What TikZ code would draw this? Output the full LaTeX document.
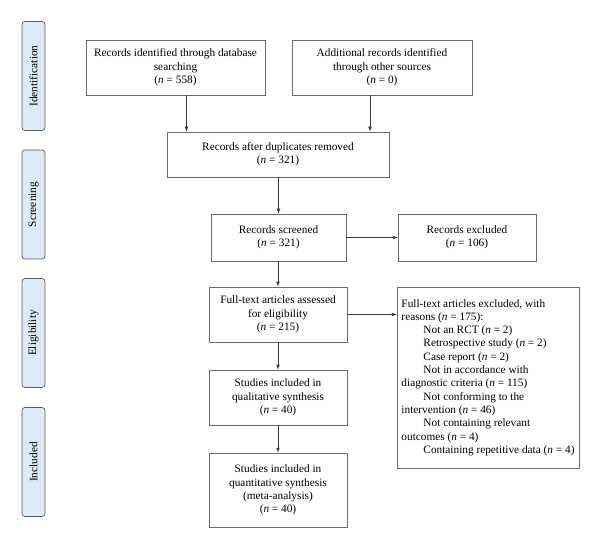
\documentclass[tikz,border=0pt]{standalone}
\usepackage{fontspec}
\setmainfont{Liberation Serif}
\usepackage{tikz}
\usetikzlibrary{shapes.geometric, arrows}
\definecolor{boxgray}{HTML}{6A6A6A}
\definecolor{linegray}{HTML}{3A3A3A}
\definecolor{sidegray}{HTML}{5E5E5E}
\definecolor{sideblue}{HTML}{DDEBF8}

\begin{document}
\begin{tikzpicture}[x=1pt, y=-1pt,
    box/.style={draw=boxgray, line width=0.7, inner sep=2pt, align=center, font=\fontsize{11.3}{13.3}\selectfont},
    phase/.style={draw=sidegray, fill=sideblue, rounded corners=3, minimum width=23, minimum height=109, line width=0.7, font=\fontsize{11.3}{13.3}\selectfont},
    arr/.style={->, >=latex, line width=0.7, draw=linegray}]
      \useasboundingbox (0,0) rectangle (600,548);
           % side labels
           \node[phase](ident)  at (33.5,76) {\rotatebox{90}{Identification}};
           \node[phase](screen)  at (33.5,204.5) {\rotatebox{90}{Screening}};
           \node[phase](elig)  at (33.5,333) {\rotatebox{90}{Eligibility}};
           \node[phase](incl)  at (33.5,462) {\rotatebox{90}{Included}};
           % boxes
           \node[box, minimum width=179, minimum height=55](db)  at (175.5,67.5) {Records identified through database\\searching\\(\textit{n} = 558)};
           \node[box, minimum width=180, minimum height=55](other)  at (382,67.5) {Additional records identified\\through other sources\\(\textit{n} = 0)};
           \node[box, minimum width=222, minimum height=45](dup)  at (278,154.5) {Records after duplicates removed\\(\textit{n} = 321)};
           \node[box, minimum width=135, minimum height=47](scr)  at (278.5,237.5) {Records screened\\(\textit{n} = 321)};
           \node[box, minimum width=138, minimum height=47](excl)  at (467,237.5) {Records excluded\\(\textit{n} = 106)};
           \node[box, minimum width=138, minimum height=55](full)  at (278,314.5) {Full-text articles assessed\\for eligibility\\(\textit{n} = 215)};
           \node[box, align=left, minimum width=182, minimum height=181](reasons)  at (488,377.5) {Full-text articles excluded, with\\reasons (\textit{n} = 175):\\
             \hspace*{22pt}Not an RCT (\textit{n} = 2)\\
             \hspace*{22pt}Retrospective study (\textit{n} = 2)\\
             \hspace*{22pt}Case report (\textit{n} = 2)\\
             \hspace*{22pt}Not in accordance with\\diagnostic criteria (\textit{n} = 115)\\
             \hspace*{22pt}Not conforming to the\\intervention (\textit{n} = 46)\\
             \hspace*{22pt}Not containing relevant\\outcomes (\textit{n} = 4)\\
             \hspace*{22pt}Containing repetitive data (\textit{n} = 4)};
           \node[box, minimum width=138, minimum height=55](qual)  at (278,397.5) {Studies included in\\qualitative synthesis\\(\textit{n} = 40)};
           \node[box, minimum width=138, minimum height=74](quant)  at (278,490) {Studies included in\\quantitative synthesis\\(meta-analysis)\\(\textit{n} = 40)};
           % arrows
      \draw[arr] ([xshift=11]db.south) -- ([xshift=11]db.south |- dup.north);
      \draw[arr] ([xshift=-12]other.south) -- ([xshift=-12]other.south |- dup.north);
      \draw[arr] (dup.south -| scr.north) -- (scr.north);
      \draw[arr] (scr) -- (excl);
      \draw[arr] (scr.south -| full.north) -- (full.north);
      \draw[arr] (full.east) -- (full.east -| reasons.west);
      \draw[arr] (full) -- (qual);
      \draw[arr] (qual) -- (quant);
          \end{tikzpicture}
\end{document}
